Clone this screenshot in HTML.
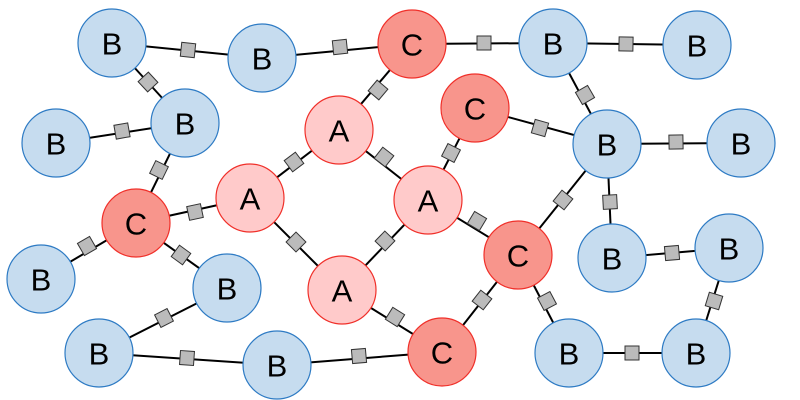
<!DOCTYPE html>
<html><head><meta charset="utf-8"><style>
html,body{margin:0;padding:0;background:#fff;}
svg{display:block;}
text{font-family:"Liberation Sans",sans-serif;font-size:31px;text-anchor:middle;dominant-baseline:central;fill:#000;}
.b{fill:#c6dcef;stroke:#2e7bc4;stroke-width:1.2;}
.a{fill:#ffcaca;stroke:#f0302a;stroke-width:1.2;}
.c{fill:#f8958c;stroke:#f0302a;stroke-width:1.2;}
line{stroke:#000;stroke-width:2;}
rect{fill:#bbb;stroke:#333;stroke-width:1;}
</style></head><body>
<svg width="800" height="400" viewBox="0 0 800 400">
<g>
<line x1="112" y1="43" x2="262" y2="58"/>
<line x1="262" y1="58" x2="412" y2="44"/>
<line x1="412" y1="44" x2="553" y2="43"/>
<line x1="553" y1="43" x2="697" y2="45"/>
<line x1="112" y1="43" x2="185" y2="123"/>
<line x1="56" y1="143" x2="185" y2="123"/>
<line x1="412" y1="44" x2="339" y2="130"/>
<line x1="339" y1="130" x2="428" y2="200"/>
<line x1="339" y1="130" x2="250" y2="198"/>
<line x1="475" y1="108" x2="607" y2="144"/>
<line x1="553" y1="43" x2="607" y2="144"/>
<line x1="475" y1="108" x2="428" y2="200"/>
<line x1="607" y1="144" x2="741" y2="143"/>
<line x1="185" y1="123" x2="136" y2="223"/>
<line x1="136" y1="223" x2="250" y2="198"/>
<line x1="428" y1="200" x2="518" y2="255"/>
<line x1="607" y1="144" x2="518" y2="255"/>
<line x1="607" y1="144" x2="612" y2="258"/>
<line x1="136" y1="223" x2="41" y2="279"/>
<line x1="136" y1="223" x2="227" y2="288"/>
<line x1="250" y1="198" x2="342" y2="290"/>
<line x1="428" y1="200" x2="342" y2="290"/>
<line x1="612" y1="258" x2="729" y2="248"/>
<line x1="227" y1="288" x2="99" y2="353"/>
<line x1="342" y1="290" x2="442" y2="352"/>
<line x1="518" y1="255" x2="442" y2="352"/>
<line x1="518" y1="255" x2="569" y2="353"/>
<line x1="729" y1="248" x2="696" y2="353"/>
<line x1="99" y1="353" x2="277" y2="365"/>
<line x1="277" y1="365" x2="442" y2="352"/>
<line x1="569" y1="353" x2="696" y2="353"/>
</g>
<g>
<rect x="-7" y="-7" width="14" height="14" transform="translate(188,50) rotate(6)"/>
<rect x="-7" y="-7" width="14" height="14" transform="translate(340,47) rotate(-6)"/>
<rect x="-7" y="-7" width="14" height="14" transform="translate(484,43) rotate(0)"/>
<rect x="-7" y="-7" width="14" height="14" transform="translate(626,44) rotate(1)"/>
<rect x="-7" y="-7" width="14" height="14" transform="translate(148,82) rotate(47)"/>
<rect x="-7" y="-7" width="14" height="14" transform="translate(122,131) rotate(-10)"/>
<rect x="-7" y="-7" width="14" height="14" transform="translate(378,90) rotate(-50)"/>
<rect x="-7" y="-7" width="14" height="14" transform="translate(384,157) rotate(38)"/>
<rect x="-7" y="-7" width="14" height="14" transform="translate(294,162) rotate(-37)"/>
<rect x="-7" y="-7" width="14" height="14" transform="translate(540,128) rotate(16)"/>
<rect x="-7" y="-7" width="14" height="14" transform="translate(585,95) rotate(60)"/>
<rect x="-7" y="-7" width="14" height="14" transform="translate(451,153) rotate(-63)"/>
<rect x="-7" y="-7" width="14" height="14" transform="translate(676,142) rotate(-1)"/>
<rect x="-7" y="-7" width="14" height="14" transform="translate(159,170) rotate(-64)"/>
<rect x="-7" y="-7" width="14" height="14" transform="translate(195,212) rotate(-12)"/>
<rect x="-7" y="-7" width="14" height="14" transform="translate(477,221) rotate(31)"/>
<rect x="-7" y="-7" width="14" height="14" transform="translate(563,200) rotate(-51)"/>
<rect x="-7" y="-7" width="14" height="14" transform="translate(610,202) rotate(87)"/>
<rect x="-7" y="-7" width="14" height="14" transform="translate(87,246) rotate(-30)"/>
<rect x="-7" y="-7" width="14" height="14" transform="translate(181,255) rotate(36)"/>
<rect x="-7" y="-7" width="14" height="14" transform="translate(296,242) rotate(45)"/>
<rect x="-7" y="-7" width="14" height="14" transform="translate(385,241) rotate(-46)"/>
<rect x="-7" y="-7" width="14" height="14" transform="translate(672,253) rotate(-5)"/>
<rect x="-7" y="-7" width="14" height="14" transform="translate(164,318) rotate(-27)"/>
<rect x="-7" y="-7" width="14" height="14" transform="translate(395,317) rotate(32)"/>
<rect x="-7" y="-7" width="14" height="14" transform="translate(482,300) rotate(-52)"/>
<rect x="-7" y="-7" width="14" height="14" transform="translate(547,301) rotate(62)"/>
<rect x="-7" y="-7" width="14" height="14" transform="translate(714,301) rotate(-73)"/>
<rect x="-7" y="-7" width="14" height="14" transform="translate(187,358) rotate(4)"/>
<rect x="-7" y="-7" width="14" height="14" transform="translate(359,356) rotate(-5)"/>
<rect x="-7" y="-7" width="14" height="14" transform="translate(632,353) rotate(0)"/>
</g>
<g>
<circle class="b" cx="112" cy="43" r="34"/><text x="112" y="44">B</text>
<circle class="b" cx="262" cy="58" r="34"/><text x="262" y="59">B</text>
<circle class="c" cx="412" cy="44" r="34"/><text x="412" y="45">C</text>
<circle class="b" cx="553" cy="43" r="34"/><text x="553" y="44">B</text>
<circle class="b" cx="697" cy="45" r="34"/><text x="697" y="46">B</text>
<circle class="b" cx="56" cy="143" r="34"/><text x="56" y="144">B</text>
<circle class="b" cx="185" cy="123" r="34"/><text x="185" y="124">B</text>
<circle class="a" cx="339" cy="130" r="34"/><text x="339" y="131">A</text>
<circle class="c" cx="475" cy="108" r="34"/><text x="475" y="109">C</text>
<circle class="b" cx="607" cy="144" r="34"/><text x="607" y="145">B</text>
<circle class="b" cx="741" cy="143" r="34"/><text x="741" y="144">B</text>
<circle class="c" cx="136" cy="223" r="34"/><text x="136" y="224">C</text>
<circle class="a" cx="250" cy="198" r="34"/><text x="250" y="199">A</text>
<circle class="a" cx="428" cy="200" r="34"/><text x="428" y="201">A</text>
<circle class="c" cx="518" cy="255" r="34"/><text x="518" y="256">C</text>
<circle class="b" cx="612" cy="258" r="34"/><text x="612" y="259">B</text>
<circle class="b" cx="729" cy="248" r="34"/><text x="729" y="249">B</text>
<circle class="b" cx="41" cy="279" r="34"/><text x="41" y="280">B</text>
<circle class="b" cx="227" cy="288" r="34"/><text x="227" y="289">B</text>
<circle class="a" cx="342" cy="290" r="34"/><text x="342" y="291">A</text>
<circle class="c" cx="442" cy="352" r="34"/><text x="442" y="353">C</text>
<circle class="b" cx="99" cy="353" r="34"/><text x="99" y="354">B</text>
<circle class="b" cx="277" cy="365" r="34"/><text x="277" y="366">B</text>
<circle class="b" cx="569" cy="353" r="34"/><text x="569" y="354">B</text>
<circle class="b" cx="696" cy="353" r="34"/><text x="696" y="354">B</text>
</g>
</svg>
</body></html>
